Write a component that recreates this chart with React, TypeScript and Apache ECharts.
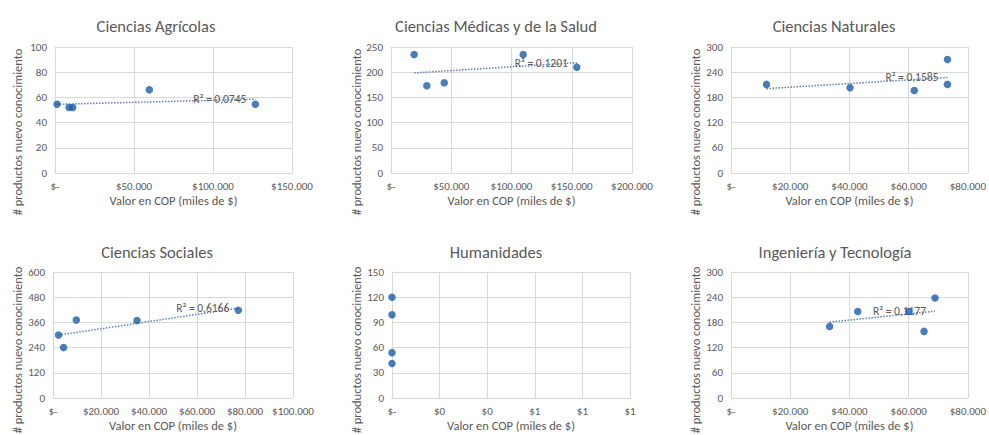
import { useEffect, useRef } from 'react';
import * as echarts from 'echarts';

const titles = [
  'Ciencias Agrícolas',
  'Ciencias Médicas y de la Salud',
  'Ciencias Naturales',
  'Ciencias Sociales',
  'Humanidades',
  'Ingeniería y Tecnología',
];

const agricolasX = [1300, 8900, 11200, 59700, 126800];
const agricolasY = [54.5, 52, 52, 66, 54.5];
const medicasX = [19200, 29700, 44200, 109700, 154200];
const medicasY = [235, 173, 179, 235, 210];
const naturalesX = [12000, 40200, 61900, 73100, 73100];
const naturalesY = [211, 203, 196.5, 270, 211];
const socialesX = [2300, 4400, 9700, 35000, 77200];
const socialesY = [300, 240, 371, 369, 418];
const humanidadesX = [0, 0, 0, 0];
const humanidadesY = [120, 99, 54, 41];
const ingenieriaX = [33300, 42800, 60000, 65200, 68900];
const ingenieriaY = [170.5, 206, 206, 158.6, 238];

const seriesX = [agricolasX, medicasX, naturalesX, socialesX, humanidadesX, ingenieriaX];
const seriesY = [agricolasY, medicasY, naturalesY, socialesY, humanidadesY, ingenieriaY];

const r2Labels = ['R² = 0,0745', 'R² = 0,1201', 'R² = 0,1585', 'R² = 0,6166', '', 'R² = 0,1177'];
const xMax = [150000, 200000, 80000, 100000, 1, 80000];
const xInterval = [50000, 50000, 20000, 20000, 0.2, 20000];
const yMax = [100, 250, 300, 600, 150, 300];
const yInterval = [20, 50, 60, 120, 30, 60];

const xAxisName = 'Valor en COP (miles de $)';
const yAxisName = '# productos nuevo conocimiento';

// layout (pixels)
const gridRects = [
  { left: 55, top: 47, right: 292, bottom: 173 },
  { left: 391, top: 47, right: 632, bottom: 173 },
  { left: 731, top: 47, right: 969, bottom: 173 },
  { left: 53, top: 272, right: 293, bottom: 398 },
  { left: 392, top: 272, right: 630, bottom: 398 },
  { left: 731, top: 272, right: 969, bottom: 398 },
];
const titlePos = [
  { x: 151, y: 12 },
  { x: 491, y: 12 },
  { x: 829, y: 12 },
  { x: 152, y: 238 },
  { x: 491, y: 238 },
  { x: 830, y: 238 },
];
const yNamePos = [
  { x: 17, y: 132 },
  { x: 356, y: 132 },
  { x: 695, y: 132 },
  { x: 17, y: 350 },
  { x: 356, y: 350 },
  { x: 695, y: 350 },
];

const FONT = 'Carlito, Lato, sans-serif';
const TEXT = '#595959';
const GRID = '#d9d9d9';

function regression(xs: number[], ys: number[]) {
  const n = xs.length;
  const mx = xs.reduce((a, b) => a + b, 0) / n;
  const my = ys.reduce((a, b) => a + b, 0) / n;
  let sxy = 0;
  let sxx = 0;
  for (let i = 0; i < n; i++) {
    sxy += (xs[i] - mx) * (ys[i] - my);
    sxx += (xs[i] - mx) * (xs[i] - mx);
  }
  const slope = sxx === 0 ? 0 : sxy / sxx;
  const b = my - slope * mx;
  const x0 = Math.min(...xs);
  const x1 = Math.max(...xs);
  return [
    [x0, slope * x0 + b],
    [x1, slope * x1 + b],
  ];
}

function fmtMoney(v: number, idx: number) {
  if (v === 0) return '$-';
  if (idx === 4) return '$' + Math.round(v);
  return '$' + Math.round(v).toString().replace(/\B(?=(\d{3})+(?!\d))/g, '.');
}

export default function App() {
  const ref = useRef<HTMLDivElement>(null);
  useEffect(() => {
    document.body.style.margin = '0';
    if (!ref.current) return;
    const chart = echarts.init(ref.current, undefined, { renderer: 'svg' });

    const grid = gridRects.map((g) => ({
      left: g.left,
      top: g.top,
      width: g.right - g.left,
      height: g.bottom - g.top,
      containLabel: false,
    }));

    const xAxis = gridRects.map((_, i) => ({
      type: 'value',
      gridIndex: i,
      min: 0,
      max: xMax[i],
      interval: xInterval[i],
      name: xAxisName,
      nameLocation: 'middle',
      nameGap: 21,
      nameTextStyle: { color: TEXT, fontSize: 12.5, fontFamily: FONT },
      axisLine: { show: true, lineStyle: { color: GRID, width: 1 } },
      axisTick: { show: false },
      splitLine: { show: true, lineStyle: { color: GRID, width: 1 } },
      axisLabel: {
        color: TEXT,
        fontSize: 11,
        fontFamily: FONT,
        margin: 8,
        formatter: (v: number) => fmtMoney(v, i),
      },
    }));

    const yAxis = gridRects.map((_, i) => ({
      type: 'value',
      gridIndex: i,
      min: 0,
      max: yMax[i],
      interval: yInterval[i],
      axisLine: { show: true, lineStyle: { color: GRID, width: 1 } },
      axisTick: { show: false },
      splitLine: { show: true, lineStyle: { color: GRID, width: 1 } },
      axisLabel: { color: TEXT, fontSize: 11, fontFamily: FONT, margin: 8 },
    }));

    const series: any[] = [];
    seriesX.forEach((xs, i) => {
      if (r2Labels[i]) {
        const line = regression(xs, seriesY[i]);
        series.push({
          type: 'line',
          xAxisIndex: i,
          yAxisIndex: i,
          symbol: 'circle',
          symbolSize: 0,
          showSymbol: true,
          silent: true,
          z: 2,
          itemStyle: { color: 'transparent' },
          lineStyle: { color: '#5a82bf', width: 1.5, type: 'dotted' },
          data: [
            { value: line[0] },
            {
              value: line[1],
              label: {
                show: true,
                position: 'left',
                distance: 9,
                formatter: r2Labels[i],
                color: TEXT,
                fontSize: 11.5,
                fontFamily: FONT,
              },
            },
          ],
        });
      }
      series.push({
        type: 'scatter',
        xAxisIndex: i,
        yAxisIndex: i,
        symbol: 'circle',
        symbolSize: 7.5,
        z: 3,
        itemStyle: { color: '#1a5ca8' },
        data: xs.map((x, k) => [x, seriesY[i][k]]),
      });
    });

    const title = titles.map((t, i) => ({
      text: t,
      left: titlePos[i].x,
      top: titlePos[i].y,
      textAlign: 'center',
      textStyle: { color: TEXT, fontSize: 16.5, fontWeight: 'normal', fontFamily: FONT },
    }));

    const graphic = yNamePos.map((p) => ({
      type: 'text',
      x: p.x,
      y: p.y,
      rotation: Math.PI / 2,
      style: {
        text: yAxisName,
        fill: TEXT,
        fontSize: 12.5,
        fontFamily: FONT,
        align: 'center',
        verticalAlign: 'middle',
      },
    }));

    chart.setOption({
      animation: false,
      backgroundColor: '#ffffff',
      title,
      grid,
      xAxis,
      yAxis,
      series,
      graphic,
    } as any);

    return () => chart.dispose();
  }, []);

  return <div ref={ref} style={{ width: 989, height: 435 }} />;
}
